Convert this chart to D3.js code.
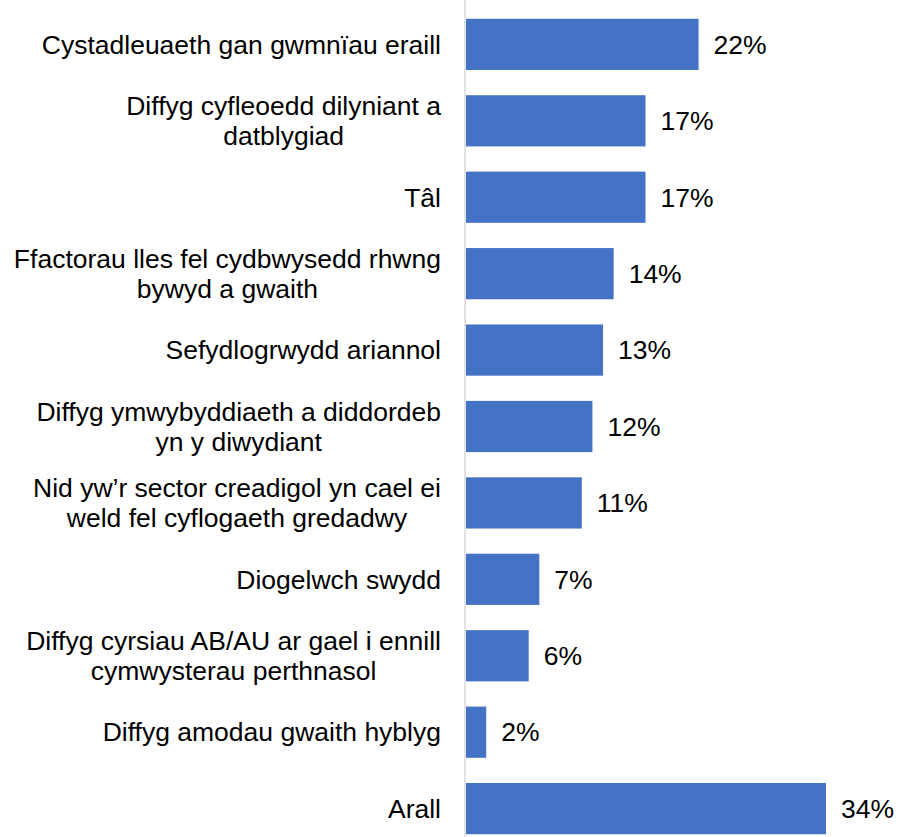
<!DOCTYPE html>
<meta charset="utf-8">
<style>
  body { margin: 0; background: #fff; }
  text { font-family: "Liberation Sans", Arial, sans-serif; fill: #000; }
</style>
<body>
<svg id="chart" width="898" height="837"></svg>
<script src="https://d3js.org/d3.v7.min.js"></script>
<script>
  // data
  var labels = [
    ["Cystadleuaeth gan gwmnïau eraill"],
    ["Diffyg cyfleoedd dilyniant a", "datblygiad"],
    ["Tâl"],
    ["Ffactorau lles fel cydbwysedd rhwng", "bywyd a gwaith"],
    ["Sefydlogrwydd ariannol"],
    ["Diffyg ymwybyddiaeth a diddordeb", "yn y diwydiant"],
    ["Nid yw’r sector creadigol yn cael ei", "weld fel cyflogaeth gredadwy"],
    ["Diogelwch swydd"],
    ["Diffyg cyrsiau AB/AU ar gael i ennill", "cymwysterau perthnasol"],
    ["Diffyg amodau gwaith hyblyg"],
    ["Arall"]
  ];
  var values = [22, 17, 17, 14, 13, 12, 11, 7, 6, 2, 34];

  var svg = d3.select('#chart');
  var x0 = 465, labelRight = 441;
  var fontSize = '26.5px';

  var xScale = d3.scaleLinear()
      .domain([0, 34])
      .range([x0, 826]);

  var yScale = d3.scaleBand()
      .domain(d3.range(values.length))
      .range([3.5, 849.5])
      .paddingInner(0.33)
      .paddingOuter(0.2);

  // bars
  svg.selectAll('rect.bar')
    .data(values)
    .enter().append('rect')
      .attr('class', 'bar')
      .attr('x', x0 + 1)
      .attr('y', function(d, i) { return yScale(i); })
      .attr('width', function(d) { return xScale(d) - x0 - 1; })
      .attr('height', yScale.bandwidth())
      .attr('fill', '#4472c4');

  // axis line
  svg.append('line')
    .attr('x1', x0).attr('x2', x0)
    .attr('y1', 0).attr('y2', 837)
    .attr('stroke', '#d9d9d9')
    .attr('stroke-width', 1.5);

  // value labels
  svg.selectAll('text.val')
    .data(values)
    .enter().append('text')
      .attr('class', 'val')
      .attr('x', function(d) { return xScale(d) + 15; })
      .attr('y', function(d, i) { return yScale(i) + yScale.bandwidth() / 2; })
      .attr('dy', '0.35em')
      .style('font-size', fontSize)
      .text(function(d) { return d + '%'; });

  // category labels, centred block with right edge at labelRight
  var lineH = 30;
  labels.forEach(function(lines, i) {
    var cy = yScale(i) + yScale.bandwidth() / 2;
    var t = svg.append('text')
      .attr('text-anchor', 'middle')
      .style('font-size', fontSize);
    var spans = lines.map(function(s, j) {
      return t.append('tspan')
        .attr('y', cy + (j - (lines.length - 1) / 2) * lineH)
        .attr('dy', '0.35em')
        .text(s);
    });
    var w = d3.max(spans, function(s) { return s.node().getComputedTextLength(); });
    spans.forEach(function(s) { s.attr('x', labelRight - w / 2); });
  });
</script>
</body>
